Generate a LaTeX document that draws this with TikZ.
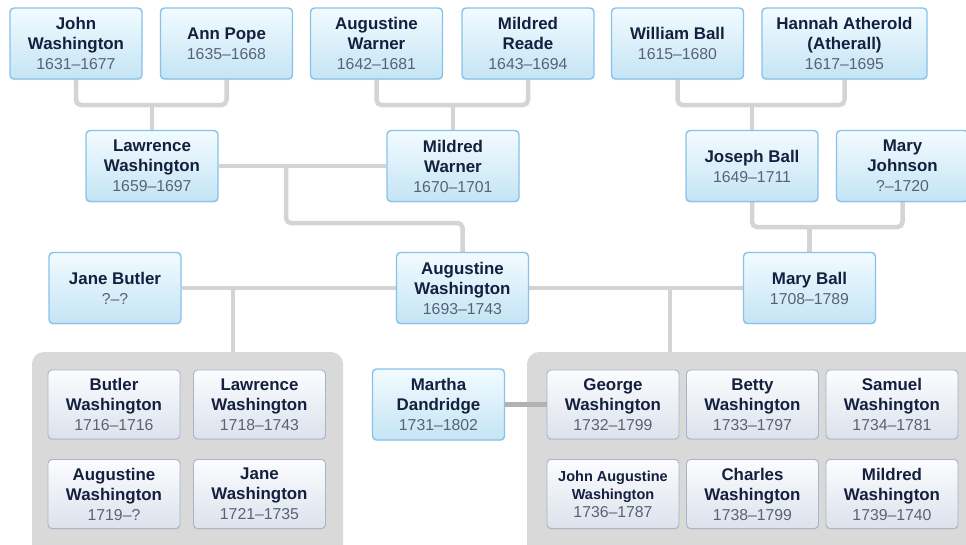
\documentclass[tikz,border=0pt]{standalone}
\usepackage{fontspec}
\setmainfont{Liberation Sans}
\usepackage{tikz}
\usetikzlibrary{backgrounds,shadows}
\usepackage{xcolor}
\definecolor{namecol}{RGB}{20,32,62}
\definecolor{datecol}{RGB}{88,98,118}
\definecolor{boxtop}{RGB}{242,251,255}
\definecolor{boxbot}{RGB}{196,228,245}
\definecolor{boxline}{RGB}{136,194,234}
\definecolor{kidtop}{RGB}{251,252,254}
\definecolor{kidbot}{RGB}{220,226,236}
\definecolor{kidline}{RGB}{168,180,200}
\definecolor{linkcol}{RGB}{212,212,212}
\definecolor{spousecol}{RGB}{178,178,178}
\definecolor{groupcol}{RGB}{217,217,217}
\newcommand{\yrs}[1]{{\mdseries\color{datecol}\fontsize{15.8}{19}\selectfont #1}}

\begin{document}
\begin{tikzpicture}[x=1pt,y=-1pt]
  % Define overall style for the tree
  \tikzset{
    personbox/.style={
      draw=boxline,
      line width=1.4pt,
      rounded corners=4pt,
      top color=boxtop,
      bottom color=boxbot,
      minimum width=132pt,
      minimum height=71pt,
      inner sep=2pt,
      align=center,
      text=namecol,
      font=\bfseries\fontsize{16.9}{20}\selectfont,
      drop shadow={opacity=0.12, shadow xshift=0pt, shadow yshift=-1.2pt}
    },
    kidbox/.style={
      personbox,
      draw=kidline,
      line width=0.9pt,
      top color=kidtop,
      bottom color=kidbot,
      minimum height=69pt
    },
    famline/.style={
      draw=linkcol,
      line width=4.5pt,
      rounded corners=5pt
    },
    kidgroup/.style={
      fill=groupcol,
      rounded corners=12pt
    }
  }
  \useasboundingbox (0,0) rectangle (966,544);

  % Grandparents
  \node[personbox] (john) at (76,43.5) {John\\Washington\\\yrs{1631--1677}};
  \node[personbox] (ann) at (226.5,43.5) {Ann Pope\\\yrs{1635--1668}};
  \node[personbox] (awarner) at (376.5,43.5) {Augustine\\Warner\\\yrs{1642--1681}};
  \node[personbox] (mreade) at (528,43.5) {Mildred\\Reade\\\yrs{1643--1694}};
  \node[personbox] (wball) at (677.5,43.5) {William Ball\\\yrs{1615--1680}};
  \node[personbox, minimum width=165pt] (hannah) at (844.5,43.5) {Hannah Atherold\\(Atherall)\\\yrs{1617--1695}};

  % Parents
  \node[personbox] (lawrence) at (152,166) {Lawrence\\Washington\\\yrs{1659--1697}};
  \node[personbox] (mwarner) at (453,166) {Mildred\\Warner\\\yrs{1670--1701}};
  \node[personbox] (joseph) at (752,166) {Joseph Ball\\\yrs{1649--1711}};
  \node[personbox] (mjohnson) at (902.5,166) {Mary\\Johnson\\\yrs{?--1720}};

  % Augustine and his wives
  \node[personbox] (jane) at (115,288) {Jane Butler\\\yrs{?--?}};
  \node[personbox] (augustine) at (462.5,288) {Augustine\\Washington\\\yrs{1693--1743}};
  \node[personbox] (maryball) at (809.5,288) {Mary Ball\\\yrs{1708--1789}};
  \node[personbox] (martha) at (438.5,404.5) {Martha\\Dandridge\\\yrs{1731--1802}};

  % Children of Jane Butler
  \node[kidbox] (butlerw) at (114,404.5) {Butler\\Washington\\\yrs{1716--1716}};
  \node[kidbox] (lawrencew) at (259.5,404.5) {Lawrence\\Washington\\\yrs{1718--1743}};
  \node[kidbox] (augustinew) at (114,494) {Augustine\\Washington\\\yrs{1719--?}};
  \node[kidbox] (janew) at (259.5,494) {Jane\\Washington\\\yrs{1721--1735}};

  % Children of Mary Ball
  \node[kidbox] (george) at (613,404.5) {George\\Washington\\\yrs{1732--1799}};
  \node[kidbox] (betty) at (752.5,404.5) {Betty\\Washington\\\yrs{1733--1797}};
  \node[kidbox] (samuel) at (892,404.5) {Samuel\\Washington\\\yrs{1734--1781}};
  \node[kidbox, font=\bfseries\fontsize{14.5}{18}\selectfont] (johna) at (613,494) {John Augustine\\Washington\\\yrs{1736--1787}};
  \node[kidbox] (charles) at (752.5,494) {Charles\\Washington\\\yrs{1738--1799}};
  \node[kidbox] (mildredw) at (892,494) {Mildred\\Washington\\\yrs{1739--1740}};

  % Junction points
  \coordinate (jA) at (152,105);
  \coordinate (jB) at (453,105);
  \coordinate (jC) at (752,105);
  \coordinate (jD) at (286,166);
  \coordinate (jE) at (462.5,223);
  \coordinate (jF) at (809.5,227);
  \coordinate (jG) at (233,288);
  \coordinate (jH) at (670,288);
  \coordinate (leftkids) at (233,353);
  \coordinate (rightkids) at (670,353);

  \begin{scope}[on background layer]
    % Grey boxes round the children
    \fill[kidgroup] (32,352) rectangle (343,590);
    \fill[kidgroup] (527,352) rectangle (1000,590);

    % Family lines
    \draw[famline] (john) |- (jA) -| (ann);
    \draw[famline] (jA) -- (lawrence);
    \draw[famline] (awarner) |- (jB) -| (mreade);
    \draw[famline] (jB) -- (mwarner);
    \draw[famline] (wball) |- (jC) -| (hannah);
    \draw[famline] (jC) -- (joseph);
    \draw[famline] (lawrence) -- (mwarner);
    \draw[famline] (jD) |- (jE) -- (augustine);
    \draw[famline] (joseph) |- (jF) -| (mjohnson);
    \draw[famline] (jF) -- (maryball);
    \draw[famline] (jane) -- (augustine);
    \draw[famline] (jG) -- (leftkids);
    \draw[famline] (augustine) -- (maryball);
    \draw[famline] (jH) -- (rightkids);
    \draw[famline, draw=spousecol] (martha) -- (george);
  \end{scope}
\end{tikzpicture}
\end{document}
